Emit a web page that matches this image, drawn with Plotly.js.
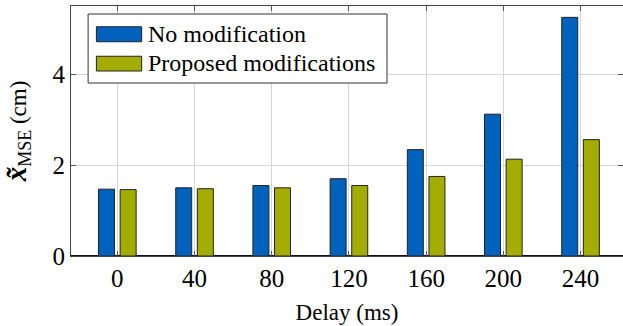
<!DOCTYPE html>
<html>
<head>
<meta charset="utf-8">
<script src="https://cdn.plot.ly/plotly-3.0.1.min.js"></script>
<style>html,body{margin:0;padding:0;background:#fff;}#chart{width:623px;height:326px;}</style>
</head>
<body>
<div id="chart"></div>
<script>
const delays = [0, 40, 80, 120, 160, 200, 240];
const noModification = [1.47, 1.50, 1.55, 1.70, 2.34, 3.12, 5.25];
const proposedModifications = [1.46, 1.48, 1.50, 1.55, 1.75, 2.13, 2.56];
const seriesNames = ["No modification", "Proposed modifications"];
const seriesColors = ["#0062BD", "#A3AC00"];
const yTicks = [0, 2, 4];

const FONT = "Liberation Serif";

const traces = [
  {type: "bar", x: delays, y: noModification, name: seriesNames[0],
   marker: {color: seriesColors[0], line: {color: "#222", width: 1}}, showlegend: false},
  {type: "bar", x: delays, y: proposedModifications, name: seriesNames[1],
   marker: {color: seriesColors[1], line: {color: "#222", width: 1}}, showlegend: false}
];

// legend drawn as a box with swatches (paper coordinates)
const lg = {x0: 0.031, x1: 0.5725, y0: 0.692, y1: 0.968, sx0: 0.046, sx1: 0.128, tx: 0.135,
  rows: [{y0: 0.857, y1: 0.917, yc: 0.889}, {y0: 0.740, y1: 0.799, yc: 0.772}]};
const shapes = [{type: "rect", xref: "paper", yref: "paper", x0: lg.x0, x1: lg.x1, y0: lg.y0, y1: lg.y1,
  line: {color: "#333", width: 1}, fillcolor: "#fff", layer: "above"}];
const annotations = [];
seriesNames.forEach((nm, i) => {
  const r = lg.rows[i];
  shapes.push({type: "rect", xref: "paper", yref: "paper", x0: lg.sx0, x1: lg.sx1, y0: r.y0, y1: r.y1,
    line: {color: "#222", width: 1}, fillcolor: seriesColors[i], layer: "above"});
  annotations.push({xref: "paper", yref: "paper", x: lg.tx, y: r.yc, xanchor: "left", yanchor: "middle",
    text: nm, showarrow: false, font: {family: FONT, size: 24, color: "#000"}});
});

const layout = {
  width: 623, height: 326,
  margin: {l: 71, r: 0, t: 6, b: 70},
  paper_bgcolor: "#fff", plot_bgcolor: "#fff",
  barmode: "group", bargap: 0.44, bargroupgap: 0.26,
  xaxis: {
    range: [-24, 262], tickvals: delays, ticktext: delays.map(String),
    showgrid: true, gridcolor: "#d6d6d6", gridwidth: 1,
    showline: true, linecolor: "#444", linewidth: 1, mirror: "ticks",
    ticks: "inside", ticklen: 5, tickcolor: "#555",
    tickfont: {family: FONT, size: 25, color: "#000"},
    zeroline: false,
    title: {text: "Delay (ms)", font: {family: FONT, size: 23, color: "#000"}, standoff: 12}
  },
  yaxis: {
    range: [0, 5.5], tickvals: yTicks, ticktext: yTicks.map(String),
    showgrid: true, gridcolor: "#d6d6d6", gridwidth: 1,
    showline: true, linecolor: "#444", linewidth: 1, mirror: "ticks",
    ticks: "inside", ticklen: 5, tickcolor: "#555",
    tickfont: {family: FONT, size: 25, color: "#000"},
    zeroline: true, zerolinecolor: "#111", zerolinewidth: 1.5,
    title: {text: "<span style=\"font-size:29px\"><b><i>x̃</i></b></span><sub><span style=\"font-size:18px\">MSE</span></sub> (cm)",
      font: {family: FONT, size: 23, color: "#000"}, standoff: 24}
  },
  shapes: shapes,
  annotations: annotations,
  showlegend: false
};

Plotly.newPlot("chart", traces, layout, {staticPlot: true, displayModeBar: false});
</script>
</body>
</html>
